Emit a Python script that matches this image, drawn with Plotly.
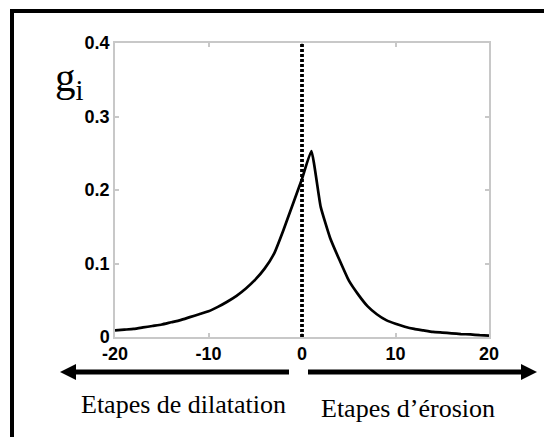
import plotly.graph_objects as go

# ---- data ----
steps = list(range(-20, 21))
g_values = [0.009, 0.010, 0.011, 0.013, 0.015, 0.017, 0.020, 0.023, 0.027, 0.031,
            0.035, 0.041, 0.048, 0.056, 0.066, 0.078, 0.093, 0.113, 0.145, 0.180,
            0.215, 0.253, 0.177, 0.135, 0.105, 0.077, 0.058, 0.042, 0.031, 0.023,
            0.018, 0.014, 0.011, 0.009, 0.007, 0.006, 0.005, 0.004, 0.0035, 0.0025,
            0.002]
x_ticks = [-20, -10, 0, 10, 20]
x_tick_text = ["-20", "-10", "0", "10", "20"]
y_ticks = [0, 0.1, 0.2, 0.3, 0.4]
y_tick_text = ["0", "0.1", "0.2", "0.3", "0.4"]
label_left = "Etapes de dilatation"
label_right = "Etapes d\u2019\u00e9rosion"
y_label = "g<sub>i</sub>"

OFF = 8  # default page body margin
W, H = 544, 429
L, R, T, B = 107, 63, 35, 100
PW, PH = W - L - R, H - T - B


def px(x):
    return (x - OFF - L) / PW


def py(y):
    return (H - B - (y - OFF)) / PH


fig = go.Figure()
fig.add_trace(go.Scatter(x=steps, y=g_values, mode="lines", line_shape="spline",
                         line=dict(color="black", width=2.7, smoothing=0.4),
                         hoverinfo="skip"))

shapes = []
# dotted vertical line at 0
shapes.append(dict(type="line", xref="x", yref="y", x0=0, x1=0, y0=0, y1=0.4,
                   line=dict(color="black", width=3.8, dash="3px,2px")))
# outer frame (top and left)
shapes.append(dict(type="line", xref="paper", yref="paper", x0=px(10), x1=px(560),
                   y0=py(11), y1=py(11), line=dict(color="black", width=4)))
shapes.append(dict(type="line", xref="paper", yref="paper", x0=px(12), x1=px(12),
                   y0=py(9), y1=py(445), line=dict(color="black", width=4)))
# arrows
ay = 372
shapes.append(dict(type="line", xref="paper", yref="paper", x0=px(70), x1=px(289),
                   y0=py(ay), y1=py(ay), line=dict(color="black", width=5)))
shapes.append(dict(type="path", xref="paper", yref="paper",
                   path=f"M {px(60)} {py(ay)} L {px(76)} {py(ay-8)} L {px(76)} {py(ay+8)} Z",
                   fillcolor="black", line=dict(color="black", width=0)))
shapes.append(dict(type="line", xref="paper", yref="paper", x0=px(308), x1=px(526),
                   y0=py(ay), y1=py(ay), line=dict(color="black", width=5)))
shapes.append(dict(type="path", xref="paper", yref="paper",
                   path=f"M {px(537)} {py(ay)} L {px(521)} {py(ay-8)} L {px(521)} {py(ay+8)} Z",
                   fillcolor="black", line=dict(color="black", width=0)))

serif = "Liberation Serif, Times New Roman, serif"
annotations = [
    dict(text=label_left, xref="paper", yref="paper", x=px(183), y=py(404),
         showarrow=False, font=dict(family=serif, size=26, color="black"),
         xanchor="center", yanchor="middle"),
    dict(text=label_right, xref="paper", yref="paper", x=px(408), y=py(408),
         showarrow=False, font=dict(family=serif, size=26, color="black"),
         xanchor="center", yanchor="middle"),
    dict(text=y_label, xref="paper", yref="paper", x=px(53), y=py(80),
         showarrow=False, font=dict(family=serif, size=41, color="black"),
         xanchor="left", yanchor="middle"),
]

tickfont = dict(family="Liberation Sans, Arial, sans-serif", size=18, color="black", weight="bold")
axis_common = dict(showgrid=False, zeroline=False, showline=True, linecolor="#c8c8c8",
                   linewidth=1.5, mirror="ticks", ticks="inside", ticklen=4,
                   tickcolor="#c8c8c8", tickwidth=1.5, tickfont=tickfont)

fig.update_layout(
    width=W, height=H, margin=dict(l=L, r=R, t=T, b=B, pad=0),
    paper_bgcolor="white", plot_bgcolor="white", showlegend=False,
    xaxis=dict(range=[-20, 20], tickvals=x_ticks, ticktext=x_tick_text, **axis_common),
    yaxis=dict(range=[0, 0.4], tickvals=y_ticks, ticktext=y_tick_text, **axis_common),
    shapes=shapes, annotations=annotations,
)

fig.write_html("out.html")
